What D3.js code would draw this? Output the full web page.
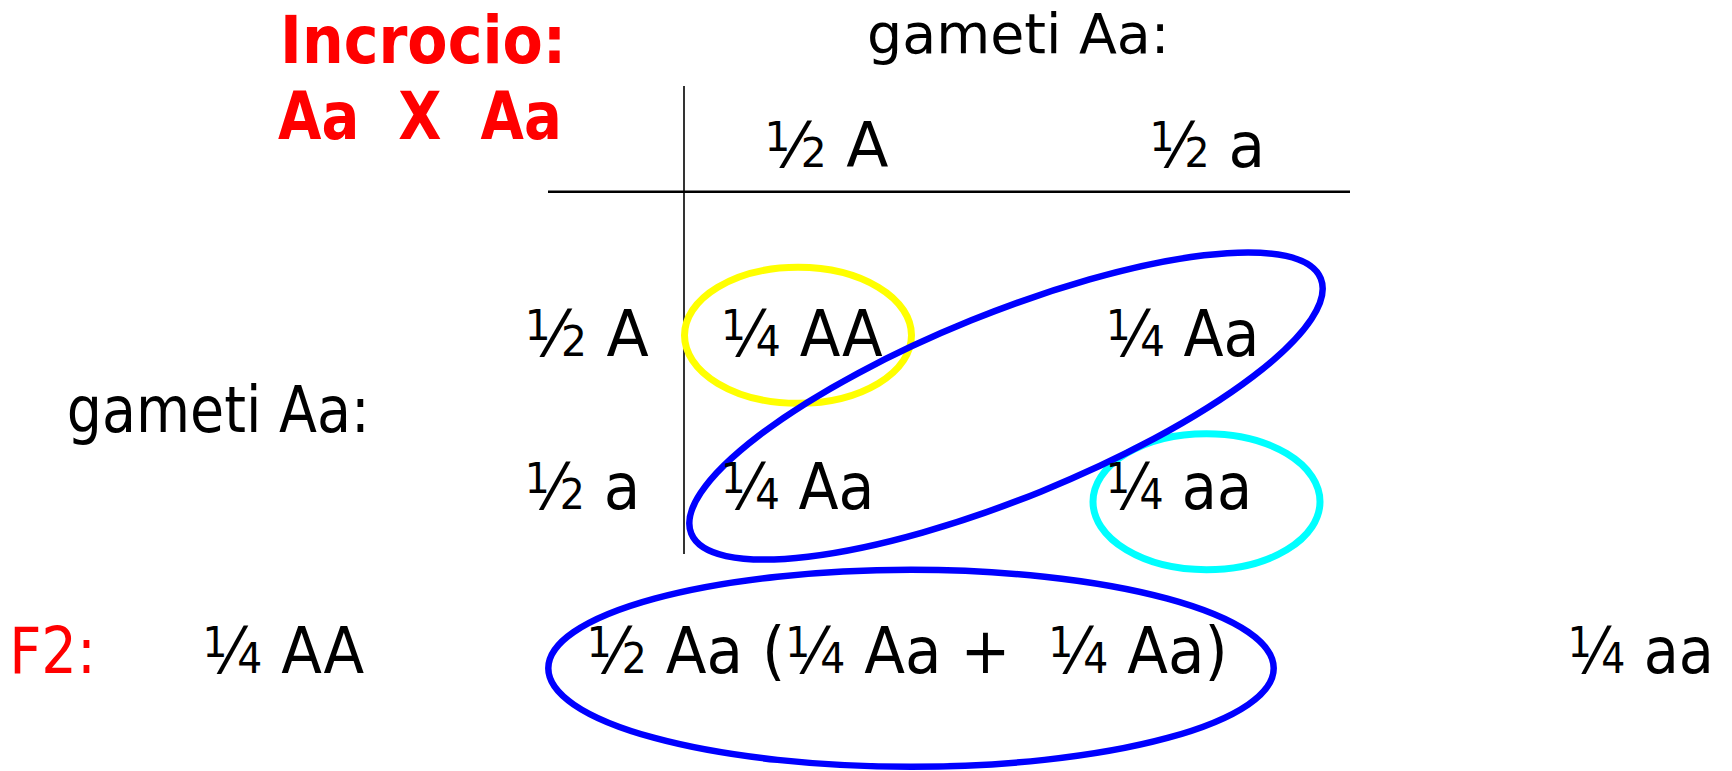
<!DOCTYPE html>
<html><head><meta charset="utf-8">
<script src="https://cdn.jsdelivr.net/npm/d3@7/dist/d3.min.js"></script>
<style>html,body{margin:0;padding:0;background:#fff;overflow:hidden}text{white-space:pre}</style>
</head><body><svg id="c" width="1732" height="771"></svg>
<script>
// ---- data ----
const crossTitle = ["Incrocio:", "Aa  X  Aa"];
const gameteLabel = "gameti Aa:";
const colGametes = ["½ A", "½ a"];
const rowGametes = ["½ A", "½ a"];
const cellGenotypes = [["¼ AA", "¼ Aa"], ["¼ Aa", "¼ aa"]];
const f2Label = "F2:";
const f2Items = ["¼ AA", "½ Aa (¼ Aa +  ¼ Aa)", "¼ aa"];
const highlights = [
  {name: "AA", cells: [[0, 0]], color: "#FFFF00"},
  {name: "aa", cells: [[1, 1]], color: "#00FFFF"},
  {name: "Aa", cells: [[0, 1], [1, 0]], color: "#0000FF"}
];

// ---- layout / style ----
const FONT = "DejaVu Sans";
const inkWidth = {
  "Incrocio:": 281, "Aa  X  Aa": 278.6, "gameti Aa:": 298, "F2:": 81.6,
  "½ A": 119, "½ a": 110.5, "¼ AA": 156.7, "¼ Aa": 148.4, "¼ aa": 141,
  "½ Aa (¼ Aa +  ¼ Aa)": 636
};
const FRAC = {"½": ["1", "2"], "¼": ["1", "4"]};
const svg = d3.select("#c");
const x = d3.scaleBand().domain(d3.range(colGametes.length)).range([684, 1454]);
const y = d3.scalePoint().domain(d3.range(rowGametes.length)).range([356, 509]);
const f2x = d3.scaleOrdinal().domain(f2Items).range([205, 589.3, 1570.3]);
const f2y = 673.3;

function label(g, str, left, base, fs, opts = {}) {
  const pad = fs * 0.04;
  const target = (opts.w || inkWidth[str]) + 2 * pad;
  const el = g.append("text")
    .attr("x", 0).attr("y", 0)
    .attr("font-family", FONT).attr("font-size", fs)
    .attr("font-weight", opts.bold ? "bold" : "normal")
    .attr("fill", opts.color || "#000");
  // plain runs, and fractions drawn as big stacked digits
  const parts = str.split(/([½¼])/).filter(p => p.length);
  const small = fs * 0.66, raise = fs * 0.25;
  parts.forEach(p => {
    if (FRAC[p]) {
      const [n, d] = FRAC[p];
      el.append("tspan").attr("font-size", small).attr("dy", -raise).text(n);
      el.append("tspan").attr("dy", raise).attr("font-size", fs).text("\u2044");
      el.append("tspan").attr("font-size", small).text(d);
    } else {
      el.append("tspan").text(p);
    }
  });
  const natural = el.node().getComputedTextLength();
  const sx = target / natural;
  el.attr("transform", `translate(${left - pad},${base}) scale(${sx},1)`);
  return el;
}

// grid lines
svg.append("line").attr("x1", x(0)).attr("x2", x(0)).attr("y1", 86).attr("y2", 554)
  .attr("stroke", "#000").attr("stroke-width", 1.6);
svg.append("line").attr("x1", 548).attr("x2", 1350).attr("y1", 191.7).attr("y2", 191.7)
  .attr("stroke", "#000").attr("stroke-width", 2.4);

// highlight ellipses
const shapes = svg.append("g").attr("fill", "none");
highlights.forEach(h => {
  if (h.cells.length === 1) {
    const [r, c] = h.cells[0];
    const cx = r === 0 ? x(c) + 114 : x(c) + 137.5;
    const cy = y(r) - (r === 0 ? 20.7 : 7.3);
    shapes.append("ellipse").attr("cx", cx).attr("cy", cy).attr("rx", 113.5).attr("ry", 68)
      .attr("stroke", h.color).attr("stroke-width", 7);
  }
});
const diag = highlights.find(h => h.cells.length === 2);
const dcx = (x(0) + x(1)) / 2 + 129.5, dcy = (y(0) + y(1)) / 2 - 26.5;
shapes.append("ellipse").attr("cx", 0).attr("cy", 0).attr("rx", 339.6).attr("ry", 92.4)
  .attr("transform", `translate(${dcx},${dcy}) rotate(-22.05)`)
  .attr("stroke", diag.color).attr("stroke-width", 6.5);
// F2 heterozygote ellipse
shapes.append("ellipse").attr("cx", f2x(f2Items[1]) + inkWidth[f2Items[1]] / 2 + 3.7).attr("cy", f2y - 5)
  .attr("rx", 362.7).attr("ry", 98.5).attr("stroke", diag.color).attr("stroke-width", 6.5);

// texts
const t = svg.append("g");
label(t, crossTitle[0], 282.7, 63.3, 66, {bold: true, color: "#FF0000"});
label(t, crossTitle[1], 280.7, 139.3, 65, {bold: true, color: "#FF0000"});
label(t, gameteLabel, 869.3, 53.3, 56);
label(t, gameteLabel, 69.3, 432.3, 64);
colGametes.forEach((s, c) => label(t, s, x(c) + 83, 166.7, 62));
rowGametes.forEach((s, r) => label(t, s, 527.3, y(r), 64));
cellGenotypes.forEach((row, r) => row.forEach((s, c) => label(t, s, x(c) + 39.5, y(r), 64)));
label(t, f2Label, 11.7, f2y, 64, {color: "#FF0000"});
f2Items.forEach(s => label(t, s, f2x(s), f2y, 64));
</script></body></html>
